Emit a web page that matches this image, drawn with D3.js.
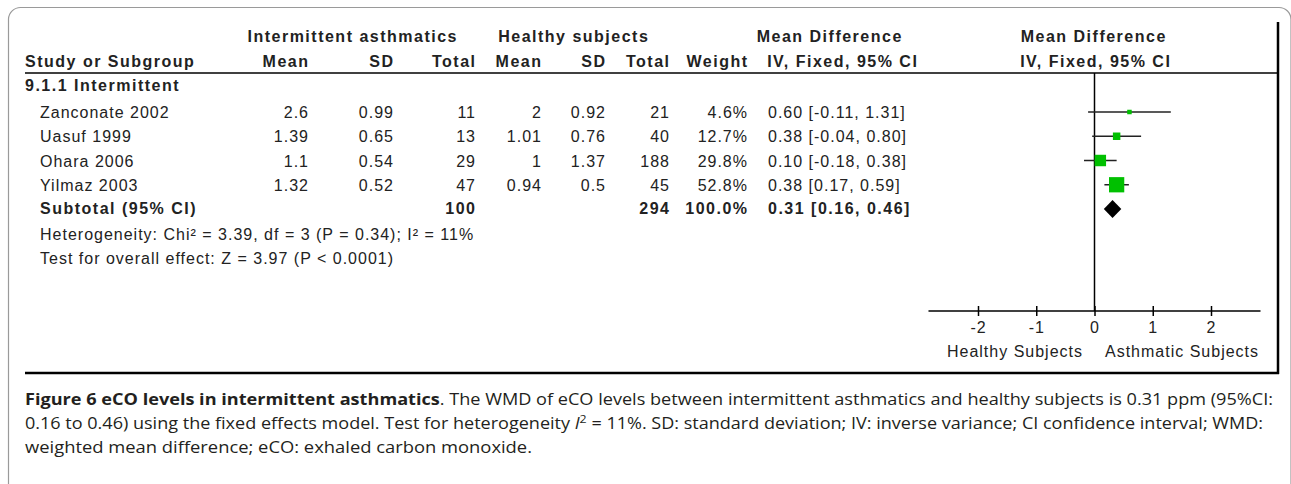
<!DOCTYPE html>
<html>
<head>
<meta charset="utf-8">
<script src="https://cdn.jsdelivr.net/npm/d3@7"></script>
<style>
  body { margin: 0; background: #fff; }
  svg text { font-family: "Liberation Sans", Arial, sans-serif; fill: #222; }
  .cap { font-family: "Open Sans", "Noto Sans", sans-serif; fill: #231f20; }
</style>
</head>
<body>
<script>
// data
var studies = ["Zanconate 2002", "Uasuf 1999", "Ohara 2006", "Yilmaz 2003"];
var asthMean = [2.6, 1.39, 1.1, 1.32];
var asthSD = [0.99, 0.65, 0.54, 0.52];
var asthN = [11, 13, 29, 47];
var healthyMean = [2, 1.01, 1, 0.94];
var healthySD = [0.92, 0.76, 1.37, 0.5];
var healthyN = [21, 40, 188, 45];
var weight = [4.6, 12.7, 29.8, 52.8];
var md = [0.60, 0.38, 0.10, 0.38];
var mdLo = [-0.11, -0.04, -0.18, 0.17];
var mdHi = [1.31, 0.80, 0.38, 0.59];
var subtotal = {asthN: 100, healthyN: 294, weight: 100.0, md: 0.31, lo: 0.16, hi: 0.46};
var ticks = [-2, -1, 0, 1, 2];

var W = 1291, H = 484;
var svg = d3.select("body").append("svg")
    .attr("width", W)
    .attr("height", H);

// rounded outer frame
svg.append("path")
    .attr("d", "M8.5,492 V19 A12,12 0 0 1 20.5,7.5 H1279 A12,12 0 0 1 1291,19.5 V492")
    .attr("fill", "none")
    .attr("stroke", "#9a9a9a")
    .attr("stroke-width", 1.2);

// scales
var x = d3.scaleLinear().domain([-2, 2]).range([978, 1211]);
var rowY = d3.scalePoint().domain(studies.concat(["Subtotal"])).range([112, 209]);
// plain hyphen for negatives, like the original
var fmt2 = function(v) { return v.toFixed(2); };

// table frame lines
svg.append("line").attr("x1", 25).attr("x2", 1278).attr("y1", 73).attr("y2", 73)
    .attr("stroke", "#000").attr("stroke-width", 1.5);
svg.append("line").attr("x1", 25).attr("x2", 1279).attr("y1", 373).attr("y2", 373)
    .attr("stroke", "#000").attr("stroke-width", 2.5);
svg.append("line").attr("x1", 1278).attr("x2", 1278).attr("y1", 22).attr("y2", 374)
    .attr("stroke", "#000").attr("stroke-width", 2.5);

function txt(s, xx, yy, anchor, bold) {
  var ls = bold ? 1.5 : 1;
  var t = svg.append("text")
      .attr("y", yy)
      .attr("text-anchor", anchor || "start")
      .attr("font-size", 16)
      .attr("letter-spacing", ls)
      .attr("font-weight", bold ? "bold" : "normal")
      .text(s);
  // letter-spacing adds a trailing gap; compensate for end / middle anchors
  var shift = anchor === "end" ? ls : anchor === "middle" ? ls / 2 : 0;
  t.attr("x", xx + shift);
  return t;
}

// column right edges
var colX = {m1: 308, s1: 393, n1: 475, m2: 541, s2: 605, n2: 669, w: 747, md: 768};

// headers
txt("Intermittent asthmatics", 352, 42, "middle", true);
txt("Healthy subjects", 573, 42, "middle", true);
txt("Mean Difference", 829, 42, "middle", true);
txt("Mean Difference", 1093, 42, "middle", true);
txt("Study or Subgroup", 25, 67, "start", true);
txt("Mean", colX.m1, 67, "end", true);
txt("SD", colX.s1, 67, "end", true);
txt("Total", colX.n1, 67, "end", true);
txt("Mean", colX.m2, 67, "end", true);
txt("SD", colX.s2, 67, "end", true);
txt("Total", colX.n2, 67, "end", true);
txt("Weight", colX.w, 67, "end", true);
txt("IV, Fixed, 95% CI", 842, 67, "middle", true);
txt("IV, Fixed, 95% CI", 1095, 67, "middle", true);

txt("9.1.1 Intermittent", 25, 91, "start", true);

// study rows
studies.forEach(function(s, i) {
  var yy = rowY(s) + 6;
  txt(s, 40, yy);
  txt(asthMean[i], colX.m1, yy, "end");
  txt(asthSD[i], colX.s1, yy, "end");
  txt(asthN[i], colX.n1, yy, "end");
  txt(healthyMean[i], colX.m2, yy, "end");
  txt(healthySD[i], colX.s2, yy, "end");
  txt(healthyN[i], colX.n2, yy, "end");
  txt(weight[i].toFixed(1) + "%", colX.w, yy, "end");
  txt(fmt2(md[i]) + " [" + fmt2(mdLo[i]) + ", " + fmt2(mdHi[i]) + "]", colX.md, yy);
});

// subtotal row
var ys = rowY("Subtotal") + 5;
txt("Subtotal (95% CI)", 40, ys, "start", true);
txt(subtotal.asthN, colX.n1, ys, "end", true);
txt(subtotal.healthyN, colX.n2, ys, "end", true);
txt(subtotal.weight.toFixed(1) + "%", colX.w, ys, "end", true);
txt(fmt2(subtotal.md) + " [" + fmt2(subtotal.lo) + ", " + fmt2(subtotal.hi) + "]", colX.md, ys, "start", true);

txt("Heterogeneity: Chi\u00b2 = 3.39, df = 3 (P = 0.34); I\u00b2 = 11%", 40, 240);
txt("Test for overall effect: Z = 3.97 (P < 0.0001)", 40, 264);

// forest plot
var axisY = 311;
svg.append("line")
    .attr("x1", x(0)).attr("x2", x(0))
    .attr("y1", 73).attr("y2", axisY)
    .attr("stroke", "#000").attr("stroke-width", 1.5);

var g = svg.append("g");
studies.forEach(function(s, i) {
  var yy = rowY(s);
  g.append("line")
      .attr("x1", x(mdLo[i])).attr("x2", x(mdHi[i]))
      .attr("y1", yy).attr("y2", yy)
      .attr("stroke", "#222").attr("stroke-width", 1.5);
  var side = 2.1 * Math.sqrt(weight[i]);
  g.append("rect")
      .attr("x", x(md[i]) - side / 2).attr("y", yy - side / 2)
      .attr("width", side).attr("height", side)
      .attr("fill", "#00c000");
});

var yd = rowY("Subtotal");
g.append("path")
    .attr("d", "M" + x(subtotal.lo) + "," + yd +
               "L" + x(subtotal.md) + "," + (yd - 9) +
               "L" + x(subtotal.hi) + "," + yd +
               "L" + x(subtotal.md) + "," + (yd + 9) + "Z")
    .attr("fill", "#000");

// x axis
svg.append("line")
    .attr("x1", x(-2.85)).attr("x2", x(2.85))
    .attr("y1", axisY).attr("y2", axisY)
    .attr("stroke", "#000").attr("stroke-width", 1.5);
var ax = svg.append("g").attr("transform", "translate(0," + (axisY - 5) + ")")
    .call(d3.axisBottom(x).tickValues(ticks).tickSize(10).tickFormat(function(d) { return String(d); }));
ax.select(".domain").remove();
ax.selectAll(".tick line").attr("stroke", "#000").attr("stroke-width", 1.5);
ax.selectAll(".tick text")
    .attr("font-size", 16)
    .attr("letter-spacing", 1)
    .attr("font-family", "Liberation Sans, Arial, sans-serif")
    .attr("fill", "#222")
    .attr("dy", "0.85em");

txt("Healthy Subjects", 1082, 357, "end");
txt("Asthmatic Subjects", 1105, 357, "start");

// caption
var c1 = svg.append("text").attr("class", "cap").attr("x", 25).attr("y", 405)
    .attr("font-size", 16)
    .attr("textLength", 1248).attr("lengthAdjust", "spacingAndGlyphs");
c1.append("tspan").attr("font-weight", "bold").attr("class", "cap")
    .text("Figure 6 eCO levels in intermittent asthmatics");
c1.append("tspan").attr("class", "cap")
    .text(". The WMD of eCO levels between intermittent asthmatics and healthy subjects is 0.31 ppm (95%CI:");

var c2 = svg.append("text").attr("class", "cap").attr("x", 25).attr("y", 429)
    .attr("font-size", 16)
    .attr("textLength", 1238).attr("lengthAdjust", "spacingAndGlyphs");
c2.append("tspan").attr("class", "cap").text("0.16 to 0.46) using the fixed effects model. Test for heterogeneity ");
c2.append("tspan").attr("class", "cap").attr("font-style", "italic").text("I");
c2.append("tspan").attr("class", "cap").attr("font-size", 11).attr("dy", -6).text("2");
c2.append("tspan").attr("class", "cap").attr("dy", 6).text(" = 11%. SD: standard deviation; IV: inverse variance; CI confidence interval; WMD:");

svg.append("text").attr("class", "cap").attr("x", 25).attr("y", 453)
    .attr("font-size", 16)
    .attr("textLength", 507).attr("lengthAdjust", "spacingAndGlyphs")
    .text("weighted mean difference; eCO: exhaled carbon monoxide.");
</script>
</body>
</html>
